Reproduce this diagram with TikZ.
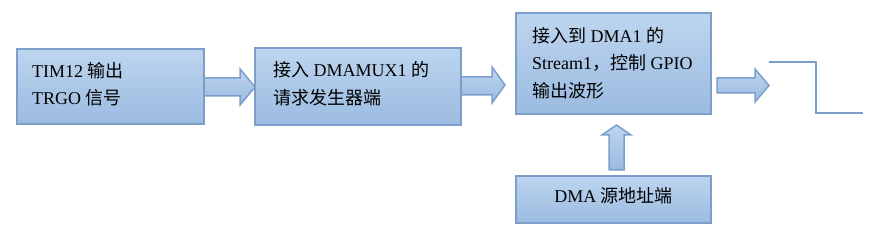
\documentclass[tikz,border=0pt]{standalone}
\usepackage{fontspec}
\setmainfont{Liberation Serif}
\newfontfamily\cjk{Noto Sans CJK SC}
\definecolor{bxtop}{HTML}{BDD5EF}
\definecolor{bxbot}{HTML}{9BBBE0}
\definecolor{bxedge}{HTML}{7B9FCA}
\tikzset{
  bx/.style={draw=bxedge, line width=1.8pt, top color=bxtop, bottom color=bxbot},
  arr/.style={draw=bxedge, line width=1.5pt, top color=bxtop, bottom color=bxbot, line join=miter},
  txt/.style={anchor=base west, inner sep=0pt, font=\fontsize{18}{27}\selectfont},
  wave/.style={draw=bxedge, line width=1.6pt}
}
\begin{document}
\begin{tikzpicture}[x=1pt,y=-1pt]
\useasboundingbox (0,0) rectangle (890,237);
% boxes
\path[bx] (17,49) rectangle (204,124);
\path[bx] (255,48) rectangle (461,125);
\path[bx] (516,13) rectangle (711,114);
\path[bx] (516,176) rectangle (711,223);
\coordinate (b1) at (17,49);
% arrows
\path[arr] (204,78) -- (240,78) -- (240,69) -- (255,87) -- (240,105) -- (240,96) -- (204,96) -- cycle;
\path[arr] (461,77) -- (492,77) -- (492,67) -- (505,85) -- (492,103) -- (492,95) -- (461,95) -- cycle;
\path[arr] (717,78) -- (755,78) -- (755,69) -- (769,85.5) -- (755,102) -- (755,93) -- (717,93) -- cycle;
\path[arr] (609,170) -- (609,135) -- (602,135) -- (616.5,125) -- (631,135) -- (624,135) -- (624,170) -- cycle;
% waveform
\coordinate (w0) at (769,62);
\coordinate (w1) at (816,62);
\coordinate (w2) at (816,113);
\coordinate (w3) at (863,113);
\draw[wave] (w0) -- (w1) -- (w2) -- (w3);
% texts
\node[txt] (t1a) at (32,78) {TIM12 {\cjk 输出}};
\node[txt] (t1b) at (32,105) {TRGO {\cjk 信号}};
\node[txt] (t2a) at (273,77) {{\cjk 接入} DMAMUX1 {\cjk 的}};
\node[txt] (t2b) at (273,105) {\cjk 请求发生器端};
\node[txt] (t3a) at (532,43) {{\cjk 接入到} DMA1 {\cjk 的}};
\node[txt] (t3b) at (532,70) {Stream1{\cjk ，控制} GPIO};
\node[txt] (t3c) at (532,98) {\cjk 输出波形};
\node[anchor=base, inner sep=0pt, font=\fontsize{18}{27}\selectfont] (t4) at (613.5,203) {DMA {\cjk 源地址端}};
\end{tikzpicture}
\end{document}
